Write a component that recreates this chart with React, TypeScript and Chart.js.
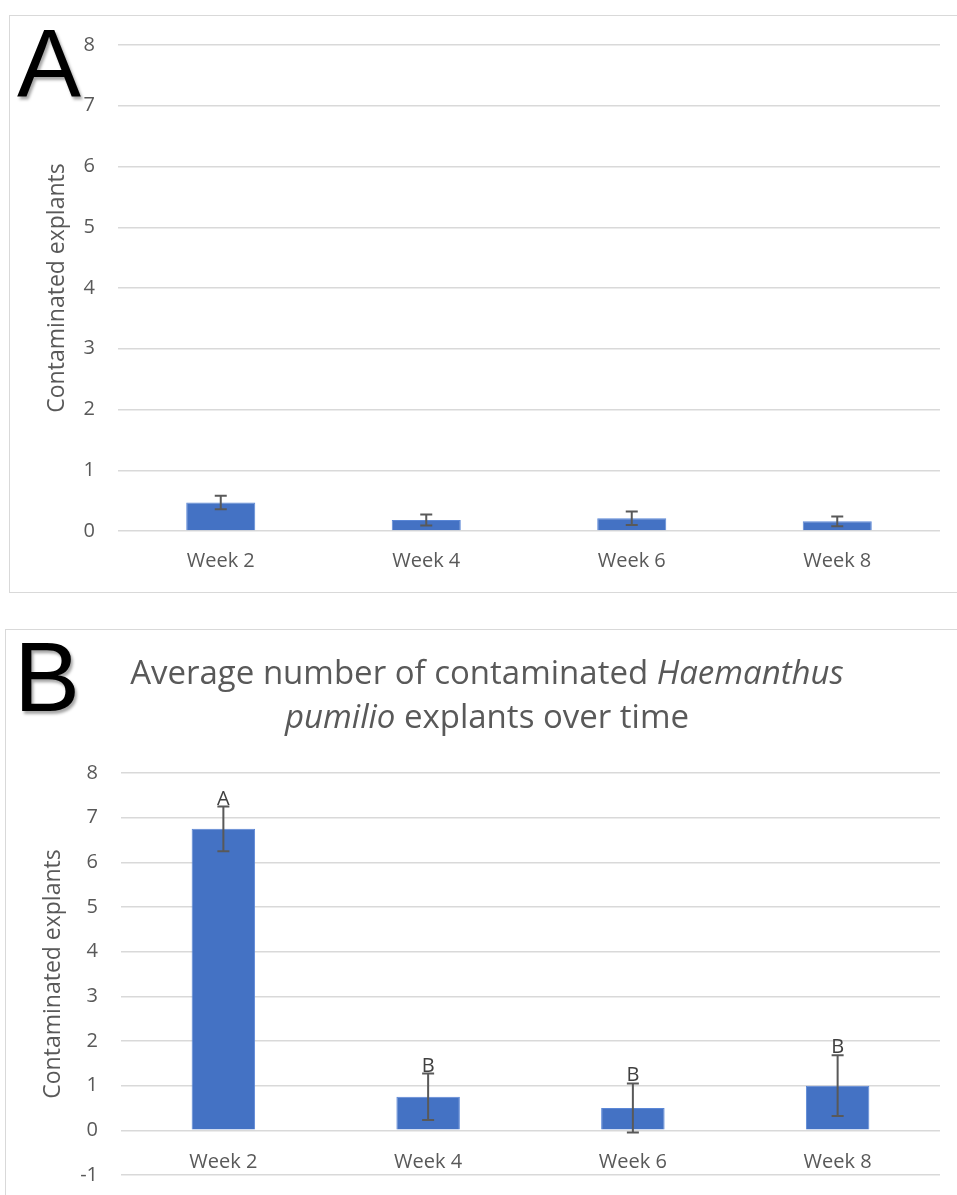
import React, { useEffect, useRef } from "react";
import { Chart, registerables } from "chart.js";

Chart.register(...registerables);

const categories = ["Week 2", "Week 4", "Week 6", "Week 8"];
const valuesA = [0.47, 0.18, 0.21, 0.16];
const errorsA = [0.11, 0.09, 0.11, 0.08];
const valuesB = [6.75, 0.75, 0.5, 1.0];
const errorsB = [0.5, 0.52, 0.55, 0.68];
const lettersB = ["A", "B", "B", "B"];
const yTitle = "Contaminated explants";

const FONT = "'Open Sans', sans-serif";
const TEXT = "#595959";
const GRID = "#d9d9d9";
const BAR = "#4472C4";

const errorBarPlugin = {
  id: "errorBars",
  afterDatasetsDraw(chart: any, _args: any, opts: any) {
    const { ctx } = chart;
    const meta = chart.getDatasetMeta(0);
    const ys = chart.scales.y;
    const data = chart.data.datasets[0].data as number[];
    const errs: number[] = opts.errors || [];
    const letters: string[] | undefined = opts.letters;
    ctx.save();
    meta.data.forEach((bar: any, i: number) => {
      const v = data[i];
      const e = errs[i] || 0;
      const x = bar.x;
      const yTop = ys.getPixelForValue(v + e);
      const yBot = ys.getPixelForValue(v - e);
      ctx.strokeStyle = "#595959";
      ctx.lineWidth = 2;
      ctx.beginPath();
      ctx.moveTo(x, yTop);
      ctx.lineTo(x, yBot);
      ctx.moveTo(x - 6, yTop);
      ctx.lineTo(x + 6, yTop);
      ctx.moveTo(x - 6, yBot);
      ctx.lineTo(x + 6, yBot);
      ctx.stroke();
      if (letters && letters[i]) {
        ctx.fillStyle = "#404040";
        ctx.font = `20px ${FONT}`;
        ctx.textAlign = "center";
        ctx.textBaseline = "alphabetic";
        ctx.fillText(letters[i], x, yTop - 2);
      }
    });
    ctx.restore();
  },
};

type PanelProps = {
  values: number[];
  errors: number[];
  letters?: string[];
  min: number;
  max: number;
  width: number;
  height: number;
  padding: { left: number; top: number; right: number; bottom: number };
  yWidth: number;
  barPct: number;
  titlePad: number;
  xPad: number;
};

function BarPanel(p: PanelProps) {
  const ref = useRef<HTMLCanvasElement | null>(null);
  useEffect(() => {
    if (!ref.current) return;
    const chart = new Chart(ref.current, {
      type: "bar",
      data: {
        labels: categories,
        datasets: [
          {
            data: p.values,
            backgroundColor: BAR,
            borderColor: "#5b87d6",
            borderWidth: 1,
            barPercentage: p.barPct,
            categoryPercentage: 1,
          },
        ],
      },
      options: {
        responsive: false,
        animation: false,
        layout: { padding: p.padding },
        plugins: {
          legend: { display: false },
          tooltip: { enabled: false },
          title: { display: false },
          errorBars: { errors: p.errors, letters: p.letters },
        } as any,
        scales: {
          x: {
            position: { y: 0 } as any,
            grid: { display: false, drawTicks: false },
            border: { display: false },
            ticks: { color: TEXT, font: { family: FONT, size: 20 }, padding: p.xPad },
          },
          y: {
            min: p.min,
            max: p.max,
            afterFit: (s: any) => {
              s.width = p.yWidth;
            },
            grid: { color: GRID, lineWidth: 1.5, drawTicks: false },
            border: { display: false },
            ticks: {
              stepSize: 1,
              color: TEXT,
              font: { family: FONT, size: 20 },
              padding: 23,
            },
            title: {
              display: true,
              text: yTitle,
              color: TEXT,
              font: { family: FONT, size: 23, weight: "normal" },
              padding: { top: p.titlePad, bottom: 0 },
            },
          },
        },
      },
      plugins: [errorBarPlugin],
    });
    return () => chart.destroy();
  }, []);
  return <canvas ref={ref} width={p.width} height={p.height} style={{ display: "block", width: p.width, height: p.height }} />;
}

export default function App() {
  return (
    <div style={{ position: "absolute", left: 0, top: 0, width: 957, height: 1195, overflow: "hidden", background: "#fff" }}>
      {/* Panel A */}
      <div style={{ position: "absolute", left: 9, top: 15, width: 960, height: 578, border: "1.5px solid #d9d9d9", boxSizing: "border-box" }} />
      <div style={{ position: "absolute", left: 10, top: 4 }}>
        <BarPanel
          values={valuesA}
          errors={errorsA}
          min={0}
          max={8}
          width={947}
          height={588}
          padding={{ left: 0, top: 41, right: 17, bottom: 61 }}
          yWidth={108}
          barPct={0.336}
          titlePad={34}
          xPad={18}
        />
      </div>
      <div style={{ position: "absolute", left: 17, top: 15, fontFamily: "'Liberation Sans', Arial, sans-serif", fontSize: 96, lineHeight: "96px", color: "#000", textShadow: "2px 3px 3px rgba(0,0,0,0.35)" }}>A</div>

      {/* Panel B */}
      <div style={{ position: "absolute", left: 5, top: 629, width: 960, height: 600, border: "1.5px solid #d9d9d9", boxSizing: "border-box" }} />
      <div style={{ position: "absolute", left: 6, top: 630 }}>
        <BarPanel
          values={valuesB}
          errors={errorsB}
          letters={lettersB}
          min={-1}
          max={8}
          width={951}
          height={586}
          padding={{ left: 0, top: 143, right: 17, bottom: 41 }}
          yWidth={115}
          barPct={0.31}
          titlePad={34}
          xPad={20}
        />
      </div>
      <div style={{ position: "absolute", left: 14, top: 627, fontFamily: "'Liberation Sans', Arial, sans-serif", fontSize: 99, lineHeight: "99px", color: "#000", textShadow: "2px 3px 3px rgba(0,0,0,0.35)" }}>B</div>
      <div style={{ position: "absolute", left: 87, top: 650, width: 800, textAlign: "center", fontFamily: FONT, fontSize: 33, lineHeight: "44px", color: TEXT }}>
        Average number of contaminated <i>Haemanthus</i>
        <br />
        <i>pumilio</i> explants over time
      </div>
    </div>
  );
}
